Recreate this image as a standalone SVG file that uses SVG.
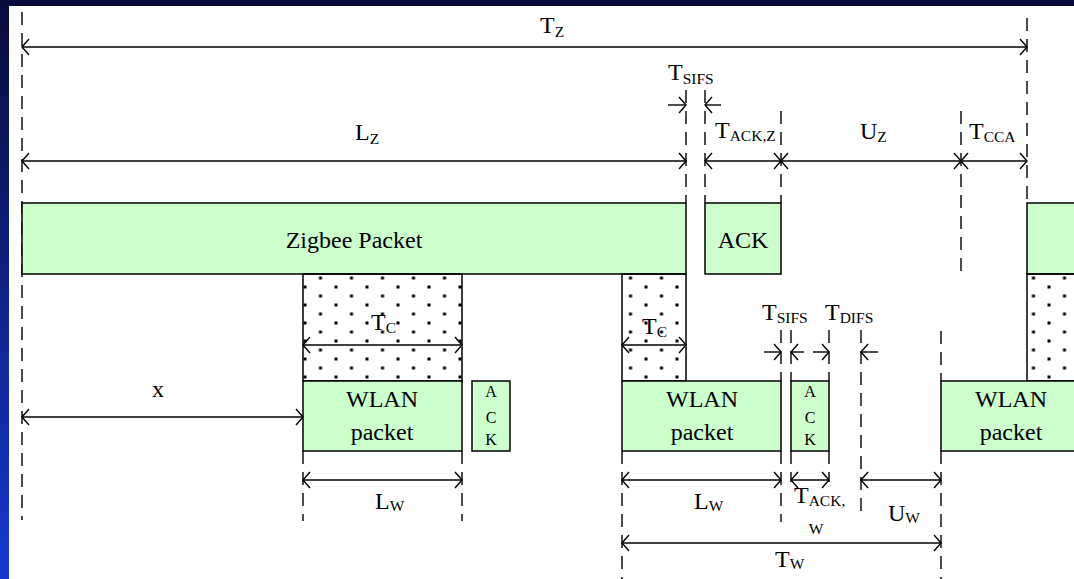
<svg xmlns="http://www.w3.org/2000/svg" width="1074" height="579" viewBox="0 0 1074 579">
<defs>
<linearGradient id="bg" x1="0" y1="0" x2="0" y2="1">
<stop offset="0" stop-color="#080c3a"/>
<stop offset="1" stop-color="#1538d0"/>
</linearGradient>
<pattern id="dots" patternUnits="userSpaceOnUse" x="303.5" y="285.5" width="31" height="18">
<rect x="0" y="0" width="3" height="3" fill="#000"/>
<rect x="15.5" y="9" width="3" height="3" fill="#000"/>
</pattern>
<marker id="ah" markerUnits="userSpaceOnUse" viewBox="-10 -10 12 20" refX="0" refY="0" markerWidth="12" markerHeight="20" orient="auto-start-reverse">
<path d="M-7,-8 L0,0 L-7,8" fill="none" stroke="#000" stroke-width="1.4"/>
</marker>
</defs>
<style>
.pk{fill:#ccffcc;stroke:#000;stroke-width:1.5}
.dt{fill:url(#dots);stroke:#000;stroke-width:1.5}
.dash{stroke:#000;stroke-width:1.4;stroke-dasharray:13 8;fill:none}
.ar{stroke:#000;stroke-width:1.4;fill:none;marker-start:url(#ah);marker-end:url(#ah)}
.ae{stroke:#000;stroke-width:1.4;fill:none;marker-end:url(#ah)}
text{font-family:"Liberation Serif","Times New Roman",serif;fill:#000}
.t{font-size:24px}
.s{font-size:15.5px}
.a{font-size:16px}
</style>
<rect x="0" y="0" width="1074" height="579" fill="url(#bg)"/>
<rect x="9" y="6" width="1065" height="573" fill="#fff"/>

<g id="guides">
<line class="dash" x1="22" y1="12" x2="22" y2="520"/>
<line class="dash" x1="1027" y1="18" x2="1027" y2="203"/>
<line class="dash" x1="686" y1="90" x2="686" y2="203"/>
<line class="dash" x1="705" y1="90" x2="705" y2="203"/>
<line class="dash" x1="781" y1="111" x2="781" y2="203"/>
<line class="dash" x1="961" y1="111" x2="961" y2="275"/>
<line class="dash" x1="303" y1="451" x2="303" y2="521"/>
<line class="dash" x1="462" y1="451" x2="462" y2="521"/>
<line class="dash" x1="622" y1="451" x2="622" y2="579"/>
<line class="dash" x1="781" y1="330" x2="781" y2="381"/>
<line class="dash" x1="781" y1="451" x2="781" y2="522"/>
<line class="dash" x1="791" y1="330" x2="791" y2="381"/>
<line class="dash" x1="791" y1="451" x2="791" y2="482"/>
<line class="dash" x1="829" y1="330" x2="829" y2="381"/>
<line class="dash" x1="829" y1="451" x2="829" y2="482"/>
<line class="dash" x1="861" y1="330" x2="861" y2="517"/>
<line class="dash" x1="941" y1="331" x2="941" y2="381"/>
<line class="dash" x1="941" y1="451" x2="941" y2="579"/>
</g>

<g id="zigbee-packet">
<rect class="pk" x="22" y="203" width="664" height="71"/>
<text class="t" x="354" y="248" text-anchor="middle">Zigbee Packet</text>
</g>
<g id="zigbee-ack">
<rect class="pk" x="705" y="203" width="76" height="71"/>
<text class="t" x="743" y="248" text-anchor="middle">ACK</text>
</g>
<g id="zigbee-packet-2">
<rect class="pk" x="1027" y="203" width="60" height="71"/>
</g>

<g id="collision-1">
<rect class="dt" x="303" y="274" width="159" height="107"/>
</g>
<g id="collision-2">
<rect class="dt" x="622" y="274" width="64" height="107"/>
</g>
<g id="collision-3">
<rect class="dt" x="1027" y="274" width="60" height="107"/>
</g>

<g id="wlan-1">
<rect class="pk" x="303" y="381" width="159" height="70"/>
<text class="t" x="382" y="407" text-anchor="middle">WLAN</text>
<text class="t" x="382" y="440" text-anchor="middle">packet</text>
</g>
<g id="wlan-ack-1">
<rect class="pk" x="472" y="381" width="38" height="70"/>
<text class="a" x="491" y="397" text-anchor="middle">A</text>
<text class="a" x="491" y="423" text-anchor="middle">C</text>
<text class="a" x="491" y="445" text-anchor="middle">K</text>
</g>
<g id="wlan-2">
<rect class="pk" x="622" y="381" width="159" height="70"/>
<text class="t" x="702" y="407" text-anchor="middle">WLAN</text>
<text class="t" x="702" y="440" text-anchor="middle">packet</text>
</g>
<g id="wlan-ack-2">
<rect class="pk" x="791" y="381" width="38" height="70"/>
<text class="a" x="810" y="397" text-anchor="middle">A</text>
<text class="a" x="810" y="423" text-anchor="middle">C</text>
<text class="a" x="810" y="445" text-anchor="middle">K</text>
</g>
<g id="wlan-3">
<rect class="pk" x="941" y="381" width="146" height="70"/>
<text class="t" x="1011" y="407" text-anchor="middle">WLAN</text>
<text class="t" x="1011" y="440" text-anchor="middle">packet</text>
</g>

<g id="connectors">
<line class="ar" x1="22" y1="47" x2="1027" y2="47"/>
<line class="ar" x1="22" y1="161" x2="686" y2="161"/>
<line class="ae" x1="668" y1="105" x2="686" y2="105"/>
<line class="ae" x1="721" y1="105" x2="705" y2="105"/>
<line class="ar" x1="705" y1="161" x2="781" y2="161"/>
<line class="ar" x1="781" y1="161" x2="961" y2="161"/>
<line class="ar" x1="961" y1="161" x2="1027" y2="161"/>
<line class="ar" x1="303" y1="345" x2="462" y2="345"/>
<line class="ar" x1="622" y1="345" x2="686" y2="345"/>
<line class="ar" x1="22" y1="417" x2="303" y2="417"/>
<line class="ar" x1="303" y1="480" x2="462" y2="480"/>
<line class="ar" x1="622" y1="480" x2="781" y2="480"/>
<line class="ar" x1="791" y1="480" x2="829" y2="480"/>
<line class="ar" x1="861" y1="480" x2="941" y2="480"/>
<line class="ar" x1="622" y1="543" x2="941" y2="543"/>
<line class="ae" x1="764" y1="352" x2="781" y2="352"/>
<line class="ae" x1="804" y1="352" x2="791" y2="352"/>
<line class="ae" x1="813" y1="352" x2="829" y2="352"/>
<line class="ae" x1="878" y1="352" x2="861" y2="352"/>
</g>

<g id="labels">
<text class="t" x="540" y="33">T<tspan class="s" dy="4">Z</tspan></text>
<text class="t" x="355" y="140">L<tspan class="s" dy="4">Z</tspan></text>
<text class="t" x="668" y="80">T<tspan class="s" dy="4">SIFS</tspan></text>
<text class="t" x="715" y="138">T<tspan class="s" dy="3">ACK,Z</tspan></text>
<text class="t" x="860" y="139">U<tspan class="s" dy="3">Z</tspan></text>
<text class="t" x="969" y="139">T<tspan class="s" dy="3">CCA</tspan></text>
<text class="t" x="371" y="330">T<tspan class="s" dy="3">C</tspan></text>
<text class="t" x="642" y="334">T<tspan class="s" dy="3">C</tspan></text>
<text class="t" x="158" y="397" text-anchor="middle">x</text>
<text class="t" x="375" y="509">L<tspan class="s" dy="2">W</tspan></text>
<text class="t" x="694" y="509">L<tspan class="s" dy="2">W</tspan></text>
<text class="t" x="762" y="320">T<tspan class="s" dy="3">SIFS</tspan></text>
<text class="t" x="825" y="320">T<tspan class="s" dy="3">DIFS</tspan></text>
<text class="t" x="794" y="503">T<tspan class="s" dy="3">ACK,</tspan></text>
<text class="s" x="816" y="534" text-anchor="middle">W</text>
<text class="t" x="888" y="521">U<tspan class="s" dy="2">W</tspan></text>
<text class="t" x="775" y="567">T<tspan class="s" dy="2">W</tspan></text>
</g>
</svg>
